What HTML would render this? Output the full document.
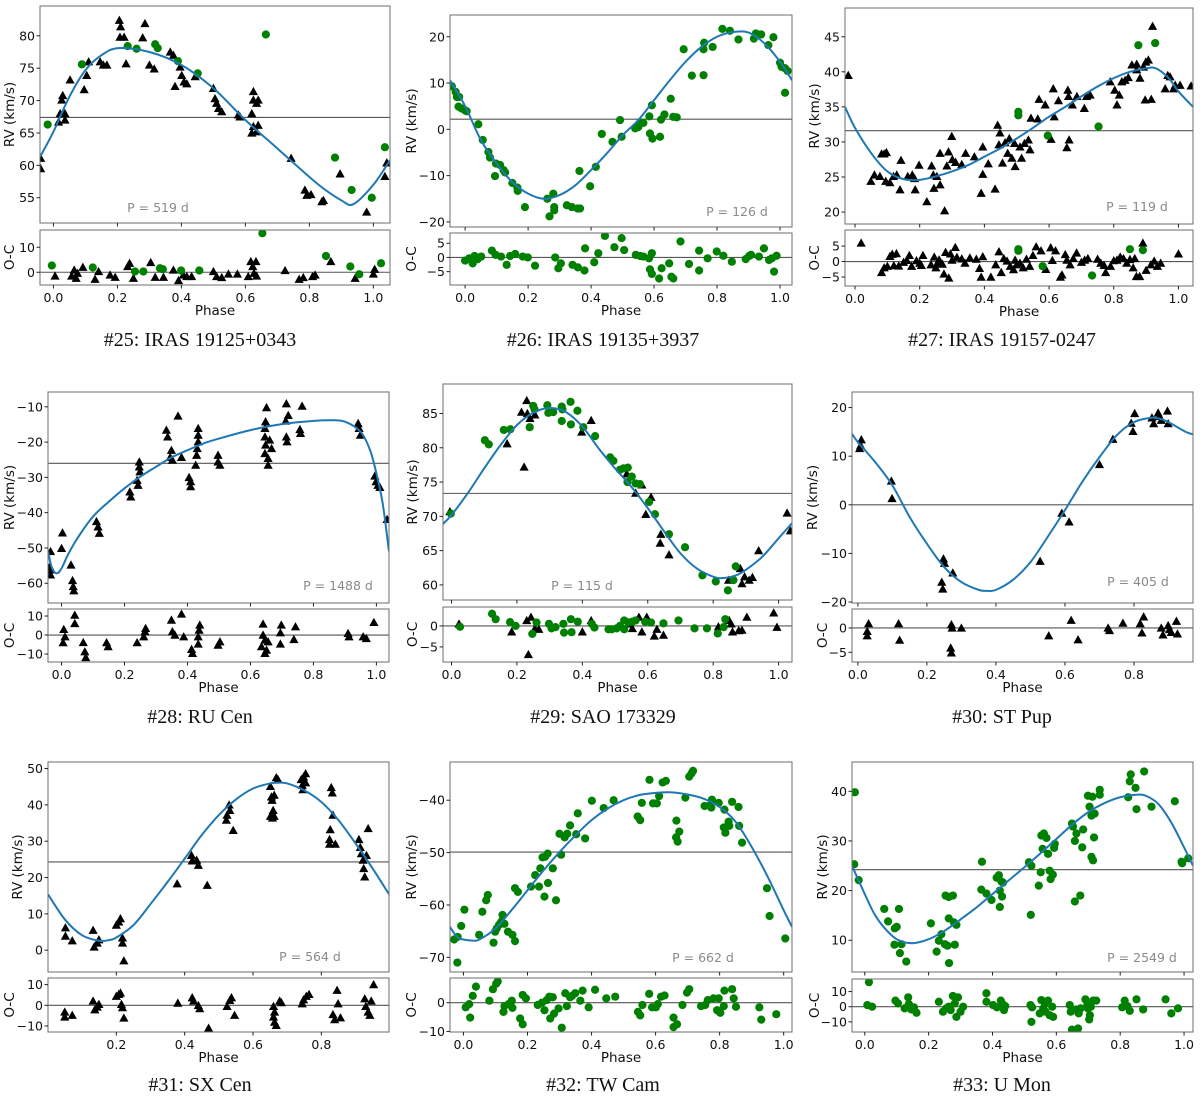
<!DOCTYPE html>
<html><head><meta charset="utf-8"><title>RV phase curves</title>
<style>
html,body{margin:0;padding:0;background:#fff;}
svg{display:block;}
.tk{font-family:"DejaVu Sans","Liberation Sans",sans-serif;font-size:12.5px;fill:#111;}
.at{font-family:"DejaVu Sans","Liberation Sans",sans-serif;font-size:13.5px;fill:#111;}
.cap{font-family:"Liberation Serif",serif;font-size:20px;fill:#111;}
.pl{font-family:"DejaVu Sans","Liberation Sans",sans-serif;font-size:12.5px;fill:#8a8a8a;}
</style></head>
<body>
<svg id="fig" xmlns="http://www.w3.org/2000/svg" width="1200" height="1102" viewBox="0 0 1200 1102">
<rect width="1200" height="1102" fill="#fff"/>
</svg>
<script>
// ---------- #25 IRAS 19125+0343 ----------
const p25TriPhase=[-0.04,-0.04,0.016,0.021,0.026,0.029,0.036,0.036,0.052,0.096,0.104,0.11,0.146,0.156,0.167,0.206,0.21,0.208,0.221,0.227,0.286,0.279,0.3,0.315,0.365,0.375,0.38,0.396,0.401,0.408,0.417,0.443,0.5,0.505,0.51,0.516,0.526,0.578,0.583,0.625,0.625,0.635,0.62,0.625,0.62,0.635,0.64,0.64,0.743,0.786,0.792,0.805,0.839,0.844,0.896,0.979,1.042,1.036];
const p25TriRv=[61.1,59.5,66.7,68.0,70.1,70.8,68.0,67.0,73.2,71.7,73.9,76.0,76.0,75.5,75.5,82.4,81.4,79.8,79.8,75.7,81.9,79.7,75.5,74.9,77.5,77.0,72.2,75.2,73.9,72.9,72.6,73.7,71.9,70.3,69.6,68.8,68.3,67.8,67.5,71.4,70.1,69.6,68.0,66.0,65.0,65.2,66.2,70.1,61.1,56.2,55.4,55.5,54.4,54.6,58.7,52.8,60.4,58.3];
const p25CircPhase=[-0.018,0.089,0.232,0.26,0.318,0.326,0.389,0.451,0.664,0.88,0.932,0.995,1.036];
const p25CircRv=[66.3,75.6,78.4,78.0,78.7,78.1,76.1,74.2,80.2,61.2,56.2,55.0,62.8];
const p25FitPhase=[-0.042,0.0,0.05,0.1,0.15,0.203,0.3,0.4,0.5,0.6,0.7,0.8,0.85,0.9,0.9375,1.0,1.052];
const p25FitRv=[61.3,65.2,70.6,74.7,77.0,78.1,77.5,75.5,71.9,67.0,62.6,58.2,56.2,54.6,54.0,57.0,60.8];
const p25OcTriPhase=[0.005,0.057,0.065,0.071,0.075,0.092,0.13,0.141,0.177,0.193,0.232,0.238,0.25,0.304,0.318,0.344,0.375,0.391,0.406,0.417,0.432,0.5,0.51,0.526,0.547,0.575,0.609,0.617,0.623,0.627,0.633,0.635,0.724,0.768,0.781,0.81,0.818,0.867,0.943,1.0,1.004];
const p25OcTri=[-1.5,-1.5,0.9,-2.4,-0.4,2.0,-2.8,0.3,-1.1,-2.0,2.3,3.6,-2.4,3.9,-2.0,-2.0,0.9,-3.3,-1.1,-1.7,-1.7,0.3,-1.7,-2.1,-0.7,-0.7,-1.7,4.3,2.3,-0.4,4.3,-1.5,0.7,-2.8,-2.1,-1.7,-1.1,4.3,-2.4,-0.7,1.2];
const p25OcCircPhase=[-0.005,0.123,0.255,0.281,0.333,0.342,0.399,0.456,0.653,0.852,0.928,0.956,1.024];
const p25OcCirc=[2.7,1.9,0.3,0.3,1.6,1.2,0.7,0.7,15.6,6.5,2.3,-0.8,3.6];

// ---------- #26 IRAS 19135+3937 ----------
const p26TriPhase=[];
const p26TriRv=[];
const p26CircPhase=[-0.042,-0.03,-0.026,-0.019,-0.021,-0.011,0,0.005,0.042,0.056,0.074,0.079,0.095,0.098,0.111,0.122,0.127,0.15,0.166,0.167,0.19,0.261,0.268,0.28,0.283,0.283,0.323,0.339,0.357,0.365,0.363,0.397,0.415,0.434,0.468,0.492,0.497,0.54,0.55,0.556,0.566,0.585,0.587,0.593,0.595,0.619,0.622,0.633,0.653,0.661,0.672,0.694,0.72,0.757,0.757,0.759,0.786,0.817,0.841,0.868,0.917,0.923,0.931,0.94,0.963,0.979,1.0,1.005,1.016,1.024,1.016];
const p26CircRv=[9.3,8.1,7.0,7.0,4.9,4.5,4.1,3.9,1.1,-2.3,-4.9,-6.1,-10.1,-7.4,-7.7,-8.8,-9.3,-11.6,-12.6,-13.3,-16.8,-15.0,-18.8,-13.9,-16.8,-17.5,-16.4,-16.8,-17.1,-17.1,-9.0,-12.3,-8.1,-1.0,-2.7,2.0,-1.6,0.2,0.5,1.5,1.4,2.8,-0.9,5.2,-2.0,-1.6,2.1,3.2,6.6,2.7,2.6,17.3,11.6,11.7,17.3,18.7,17.8,21.7,21.3,19.4,19.6,20.7,20.5,20.5,18.2,19.9,14.4,13.5,13.2,12.6,7.9];
const p26FitPhase=[-0.048,0.0,0.05,0.1,0.15,0.2,0.25,0.3,0.35,0.4,0.45,0.5,0.55,0.6,0.65,0.7,0.75,0.8,0.85,0.9,0.95,1.0,1.038];
const p26FitRv=[10.6,5.0,-2.3,-7.4,-11.4,-13.9,-15.0,-14.2,-12.1,-8.8,-5.2,-1.3,2.0,6.3,10.6,14.6,17.8,20.0,21.0,20.9,18.6,14.6,10.6];
const p26OcTriPhase=[];
const p26OcTri=[];
const p26OcCircPhase=[0,0.013,0.024,0.03,0.04,0.051,0.085,0.097,0.114,0.132,0.143,0.159,0.183,0.199,0.222,0.286,0.296,0.304,0.341,0.358,0.379,0.381,0.41,0.423,0.444,0.474,0.497,0.505,0.542,0.556,0.566,0.584,0.587,0.593,0.593,0.616,0.624,0.648,0.655,0.661,0.684,0.711,0.743,0.743,0.77,0.799,0.82,0.847,0.891,0.902,0.908,0.933,0.949,0.965,0.974,0.981,0.989];
const p26OcCirc=[-1.1,-0.3,-2.1,0.5,-0.6,0.3,2.4,0.9,0.3,-2.6,0.5,1.2,0.3,0,-2.9,0,-3.8,-2.1,-2.6,-3.5,-4.6,3.2,-1.7,1.5,7.6,3.6,6.8,2.6,0.9,0.5,0.3,-0.3,-4.2,-5.8,1.5,-7.4,-3.8,-2.1,-6.8,-7.4,5.6,-2.3,2.4,-4.6,-0.3,2.1,0.6,-1.5,-0.6,0.5,0.9,0.3,3.2,-0.9,-0.3,-5.0,0.6];

// ---------- #27 IRAS 19157-0247 ----------
const p27TriPhase=[-0.021,0.049,0.06,0.077,0.082,0.09,0.097,0.095,0.108,0.119,0.129,0.142,0.139,0.163,0.177,0.184,0.186,0.198,0.222,0.237,0.242,0.244,0.253,0.263,0.263,0.277,0.284,0.289,0.299,0.301,0.311,0.33,0.342,0.369,0.39,0.395,0.395,0.412,0.433,0.441,0.448,0.445,0.456,0.464,0.472,0.477,0.485,0.493,0.495,0.51,0.515,0.524,0.536,0.541,0.544,0.565,0.569,0.588,0.606,0.613,0.616,0.629,0.655,0.658,0.66,0.662,0.672,0.686,0.709,0.716,0.727,0.789,0.803,0.81,0.817,0.825,0.835,0.845,0.856,0.871,0.871,0.881,0.892,0.899,0.907,0.897,0.916,0.92,0.959,0.967,0.974,0.985,0.99,1.005,1.039];
const p27TriRv=[39.5,24.4,25.3,25.1,28.3,28.3,28.5,24.4,24.2,25.1,25.3,27.4,23.2,25.1,25.3,24.8,23.2,26.7,21.5,26.6,25.3,23.4,25.1,23.9,28.4,20.2,26.6,28.6,30.8,27.5,27.1,26.8,28.4,27.9,22.7,25.4,29.3,26.9,23.3,32.4,31.3,29.6,27.0,29.9,28.4,30.5,27.7,29.8,26.5,29.3,27.7,29.8,30.3,28.9,33.4,33.3,36.1,35.3,30.4,37.6,33.6,35.9,29.2,37.4,36.5,30.3,35.3,36.5,34.8,36.5,36.7,38.6,37.4,35.3,36.7,38.6,38.8,39.2,41.0,41.1,40.3,39.1,40.7,41.4,41.7,36.0,36.1,46.5,37.6,39.5,39.3,37.6,38.1,38.1,38.0];
const p27CircPhase=[0.505,0.505,0.596,0.753,0.876,0.928];
const p27CircRv=[33.8,34.3,30.9,32.2,43.8,44.1];
const p27FitPhase=[-0.031,0.0,0.05,0.1,0.15,0.2,0.25,0.3,0.35,0.4,0.45,0.5,0.55,0.6,0.65,0.7,0.75,0.8,0.85,0.9,0.93,0.97,1.0,1.045];
const p27FitRv=[35.0,32.0,28.4,25.8,24.7,24.6,25.1,25.8,26.7,27.9,29.1,30.5,32.0,33.6,35.0,36.5,37.9,39.1,40.0,40.5,40.5,39.1,37.2,35.0];
const p27OcTriPhase=[0.019,0.082,0.09,0.1,0.108,0.115,0.12,0.128,0.135,0.15,0.16,0.168,0.175,0.19,0.2,0.205,0.21,0.235,0.245,0.25,0.255,0.26,0.27,0.275,0.28,0.29,0.295,0.3,0.31,0.315,0.33,0.34,0.355,0.375,0.385,0.39,0.395,0.42,0.435,0.445,0.452,0.46,0.47,0.48,0.49,0.495,0.5,0.51,0.52,0.53,0.54,0.55,0.56,0.575,0.59,0.605,0.61,0.62,0.635,0.64,0.65,0.655,0.665,0.675,0.685,0.7,0.71,0.72,0.75,0.76,0.77,0.775,0.79,0.8,0.81,0.82,0.83,0.84,0.85,0.86,0.865,0.87,0.88,0.89,0.9,0.915,0.925,0.935,0.945,1.0];
const p27OcTri=[6.0,-3.5,-2.0,-1.5,1.7,2.4,-1.3,2.6,-1.4,-0.2,0.4,2.0,-1.5,0.3,-0.5,-1.2,2.0,-1.0,1.5,-2.0,-0.5,0.6,-0.8,-4.0,3.0,-5.3,2.5,0.5,4.6,1.4,0.9,-0.5,1.2,0.8,-2.2,-5.0,1.6,-5.0,-1.0,3.2,-3.5,1.0,0.2,-1.5,-2.6,0.5,-1.0,-0.5,-2.0,0.8,-1.5,2.0,4.8,3.5,-2.5,4.5,0.4,3.5,-5.0,-4.3,2.3,0.5,-1.0,1.0,2.8,-0.2,0.5,1.0,0.8,-0.5,-1.2,-3.5,-1.5,0.3,0.5,1.5,1.0,-0.5,0.7,-2.0,1.0,-4.8,-4.8,6.0,-2.8,-1.0,0.2,-1.5,-0.5,2.5];
const p27OcCircPhase=[0.505,0.505,0.58,0.733,0.85,0.89];
const p27OcCirc=[3.5,4.0,-1.5,-4.5,4.0,3.7];

// ---------- #28 RU Cen ----------
const p28TriPhase=[-0.035,-0.037,-0.037,-0.035,0.003,0,0.03,0.035,0.037,0.039,0.111,0.116,0.12,0.217,0.22,0.247,0.247,0.249,0.24,0.243,0.333,0.337,0.349,0.345,0.352,0.37,0.381,0.405,0.41,0.41,0.434,0.434,0.434,0.431,0.429,0.426,0.497,0.497,0.503,0.651,0.648,0.646,0.646,0.648,0.646,0.656,0.656,0.661,0.667,0.714,0.72,0.712,0.714,0.716,0.757,0.759,0.764,0.942,0.945,0.949,0.995,0.999,1.005,1.011,1.034];
const p28TriRv=[-51.0,-55.3,-56.2,-57.6,-45.7,-50.1,-54.8,-59.2,-60.9,-62.1,-42.5,-44.0,-45.8,-34.1,-35.5,-25.6,-27.0,-28.4,-30.8,-32.2,-16.6,-18.5,-22.3,-24.3,-25.1,-12.6,-24.3,-30.0,-31.2,-32.6,-16.1,-18.0,-19.9,-21.8,-23.7,-26.5,-23.7,-25.6,-26.5,-10.2,-14.2,-16.1,-18.5,-20.8,-23.2,-24.6,-26.5,-19.4,-21.8,-9.1,-12.4,-14.0,-18.5,-19.9,-16.4,-17.5,-9.8,-14.7,-16.1,-18.0,-29.6,-31.2,-32.2,-32.8,-41.9];
const p28CircPhase=[];
const p28CircRv=[];
const p28FitPhase=[-0.043,-0.03,-0.015,0.0,0.02,0.05,0.1,0.15,0.2,0.25,0.3,0.35,0.4,0.45,0.5,0.6,0.7,0.8,0.85,0.9,0.95,0.98,1.0,1.02,1.04];
const p28FitRv=[-51.0,-55.8,-57.2,-55.8,-52.0,-47.3,-41.1,-36.9,-33.1,-29.8,-27.0,-24.3,-22.3,-20.4,-19.0,-16.6,-14.9,-14.0,-13.8,-14.2,-17.1,-22.3,-28.9,-37.4,-51.0];
const p28OcTriPhase=[0.007,0.011,0.005,0.042,0.042,0.069,0.074,0.077,0.143,0.148,0.24,0.265,0.267,0.261,0.349,0.352,0.36,0.381,0.388,0.413,0.416,0.439,0.437,0.434,0.434,0.497,0.503,0.64,0.64,0.635,0.646,0.646,0.651,0.656,0.698,0.695,0.695,0.738,0.743,0.91,0.913,0.958,0.968,0.992];
const p28OcTri=[3.0,-0.9,-4.0,10.5,6.1,-3.9,-8.8,-11.8,-4.0,-6.1,-4.0,1.8,3.5,-0.9,7.9,1.8,0,11.1,-0.9,-7.5,-9.6,5.3,2.6,-0.9,-4.7,-5.3,-3.5,5.8,0,-6.1,-2.6,-9.6,-7.9,-3.5,5.3,1.2,-4.7,-2.3,4.4,0.9,-0.9,-0.9,-1.8,6.7];
const p28OcCircPhase=[];
const p28OcCirc=[];

// ---------- #29 SAO 173329 ----------
const p29TriPhase=[-0.005,0.214,0.23,0.232,0.24,0.255,0.17,0.222,0.398,0.427,0.536,0.563,0.582,0.594,0.61,0.64,0.638,0.665,0.847,0.883,0.888,0.896,0.91,0.92,0.939,1.026,1.036];
const p29TriRv=[70.7,85.2,86.9,85.0,84.3,84.8,80.6,77.2,82.3,84.0,76.2,73.4,74.6,70.3,72.8,67.4,66.1,64.4,60.7,62.4,60.2,61.2,60.7,61.1,65.0,70.5,67.9];
const p29CircPhase=[-0.002,0.102,0.114,0.16,0.18,0.239,0.25,0.254,0.293,0.296,0.311,0.337,0.339,0.337,0.364,0.365,0.385,0.403,0.439,0.485,0.495,0.515,0.526,0.539,0.538,0.551,0.563,0.576,0.604,0.622,0.665,0.714,0.767,0.808,0.845,0.862,0.869];
const p29CircRv=[70.4,81.1,80.5,82.6,82.7,83.0,86.1,85.6,86.2,85.1,85.2,86.0,85.6,83.9,86.7,83.4,85.4,83.0,81.7,78.6,78.1,76.8,77.0,77.1,75.0,75.8,74.8,74.7,72.1,70.3,67.4,65.5,61.4,60.5,59.2,60.7,62.7];
const p29FitPhase=[-0.026,0.0,0.05,0.1,0.15,0.2,0.25,0.3,0.35,0.4,0.45,0.5,0.55,0.6,0.65,0.7,0.75,0.8,0.83,0.87,0.9,0.95,1.0,1.041];
const p29FitRv=[68.9,70.2,73.4,77.0,80.4,83.3,85.1,85.8,85.2,83.1,79.9,77.0,74.3,71.2,67.8,64.6,62.4,61.2,61.0,61.4,62.2,64.1,66.8,69.0];
const p29OcTriPhase=[0.023,0.184,0.23,0.235,0.243,0.255,0.267,0.4,0.427,0.541,0.553,0.573,0.582,0.597,0.62,0.628,0.648,0.816,0.849,0.855,0.859,0.878,0.888,0.903,0.985,0.995];
const p29OcTri=[0.5,-1.4,1.3,-6.8,2.1,-0.6,-0.8,-1.4,1.3,0.5,-0.6,2.1,-1.4,2.1,-2.4,-0.8,-2.2,-0.2,1.3,0.5,-1.4,-1.1,-1.0,2.1,3.1,-0.3];
const p29OcCircPhase=[0.026,0.124,0.135,0.179,0.196,0.247,0.26,0.298,0.306,0.318,0.342,0.344,0.365,0.367,0.386,0.429,0.437,0.48,0.49,0.505,0.515,0.528,0.528,0.541,0.553,0.563,0.592,0.61,0.648,0.694,0.743,0.781,0.814,0.837,0.832];
const p29OcCirc=[-0.2,2.9,1.6,0.9,0,-1.9,0.8,0.5,-0.6,-0.3,0.5,-1.6,1.6,-1.5,1.0,0.5,-0.4,-0.8,-0.8,-0.6,0,1.3,-0.8,0.8,1.0,1.3,1.0,0.8,0.6,1.3,-0.6,-0.6,-1.8,1.6,-0.3];

// ---------- #30 ST Pup ----------
const p30TriPhase=[0.005,0.01,0.008,0.097,0.099,0.248,0.251,0.243,0.246,0.275,0.528,0.591,0.612,0.7,0.739,0.792,0.797,0.802,0.852,0.857,0.87,0.874,0.879,0.897,0.899];
const p30TriRv=[11.6,13.4,12.2,4.9,1.3,-11.1,-12.0,-15.9,-17.3,-14.0,-11.6,-1.7,-3.5,8.3,13.5,16.8,15.1,18.8,17.9,16.7,18.9,18.2,17.4,19.3,16.7];
const p30CircPhase=[];
const p30CircRv=[];
const p30FitPhase=[-0.017,0.0,0.05,0.1,0.15,0.2,0.25,0.3,0.35,0.375,0.4,0.45,0.5,0.55,0.6,0.65,0.7,0.75,0.8,0.85,0.875,0.9,0.95,0.971];
const p30FitRv=[14.6,12.9,8.8,4.0,-2.5,-8.0,-12.8,-15.9,-17.5,-17.7,-17.5,-15.4,-11.8,-6.6,-1.1,4.7,9.8,14.3,17.0,17.9,17.7,17.0,15.0,14.5];
const p30OcTriPhase=[0.031,0.027,0.027,0.118,0.121,0.271,0.273,0.269,0.271,0.3,0.553,0.618,0.638,0.725,0.729,0.768,0.818,0.823,0.828,0.879,0.884,0.899,0.903,0.908,0.923,0.926];
const p30OcTri=[0.9,-0.7,-1.6,0.9,-2.5,0.7,0,-4.1,-5.1,0,-1.6,1.6,-2.4,0,-0.5,1.0,0.9,-1.0,2.3,0,-1.4,0.5,-0.3,-0.9,1.4,-1.2];
const p30OcCircPhase=[];
const p30OcCirc=[];

// ---------- #31 SX Cen ----------
const p31TriPhase=[0.051,0.051,0.071,0.132,0.135,0.144,0.149,0.2,0.207,0.212,0.218,0.218,0.222,0.378,0.42,0.422,0.435,0.44,0.466,0.522,0.524,0.53,0.532,0.542,0.651,0.654,0.656,0.659,0.662,0.657,0.662,0.651,0.668,0.673,0.741,0.748,0.754,0.744,0.746,0.754,0.829,0.832,0.834,0.826,0.824,0.824,0.841,0.91,0.914,0.917,0.922,0.924,0.927,0.932,0.937];
const p31TriRv=[6.2,3.9,2.6,5.5,0.9,2.0,2.9,6.9,7.8,8.7,3.4,2.0,-2.9,18.3,26.1,24.6,24.8,23.4,17.9,35.8,37.2,40.0,38.5,33.0,45.1,42.2,41.3,38.5,42.7,36.4,36.9,36.9,47.5,47.0,47.0,47.7,48.6,45.4,44.2,46.1,44.8,43.3,37.2,33.2,30.5,29.2,29.2,30.5,28.3,26.6,24.8,22.5,20.2,26.1,33.5];
const p31CircPhase=[];
const p31CircRv=[];
const p31FitPhase=[0.0,0.05,0.1,0.15,0.18,0.2,0.25,0.3,0.35,0.4,0.45,0.5,0.55,0.6,0.65,0.675,0.7,0.75,0.8,0.85,0.9,0.95,0.998];
const p31FitRv=[15.4,8.4,4.1,2.6,2.8,3.5,6.9,12.7,18.8,25.2,31.7,37.2,41.5,44.5,45.9,46.1,45.9,44.0,40.8,35.8,29.4,22.5,15.4];
const p31OcTriPhase=[0.049,0.049,0.071,0.132,0.137,0.144,0.149,0.2,0.207,0.212,0.215,0.218,0.222,0.38,0.422,0.426,0.44,0.444,0.47,0.524,0.532,0.537,0.546,0.66,0.663,0.66,0.663,0.668,0.678,0.683,0.744,0.748,0.756,0.764,0.834,0.839,0.846,0.849,0.856,0.927,0.93,0.937,0.942,0.946,0.953];
const p31OcTri=[-3.2,-5.6,-4.8,2.1,-2.1,-0.8,0.5,4.4,5.3,6.0,0.5,-1.1,-6.1,1.1,3.7,2.1,0,-1.6,-11.0,-0.5,2.4,3.7,-4.8,-0.5,-3.2,-5.6,-8.1,-9.7,2.1,1.3,0.8,2.7,4.4,5.3,-4.4,-6.9,7.3,0.8,-6.0,3.2,-0.5,-3.2,-4.8,2.1,10.0];
const p31OcCircPhase=[];
const p31OcCirc=[];

// ---------- #32 TW Cam ----------
const p32TriPhase=[];
const p32TriRv=[];
const p32CircPhase=[-0.029,-0.018,-0.019,-0.007,0.003,0.049,0.059,0.071,0.076,0.094,0.099,0.104,0.111,0.118,0.122,0.128,0.139,0.153,0.161,0.161,0.17,0.211,0.224,0.236,0.24,0.247,0.255,0.253,0.263,0.264,0.279,0.289,0.3,0.305,0.316,0.324,0.333,0.352,0.357,0.38,0.401,0.438,0.469,0.544,0.552,0.557,0.581,0.592,0.604,0.611,0.622,0.632,0.665,0.664,0.669,0.674,0.693,0.705,0.712,0.717,0.753,0.769,0.776,0.774,0.797,0.813,0.815,0.818,0.828,0.83,0.839,0.859,0.861,0.87,0.948,0.956,1.005];
const p32CircRv=[-66.6,-66.1,-71.0,-64.0,-60.9,-65.7,-61.3,-59.1,-58.1,-67.2,-65.1,-64.5,-63.8,-63.2,-61.9,-63.6,-65.1,-65.7,-66.9,-56.8,-57.5,-56.5,-54.3,-56.5,-53.0,-50.9,-50.8,-58.4,-50.2,-55.8,-53.0,-59.1,-46.4,-50.4,-47.1,-46.4,-44.8,-46.5,-42.5,-47.3,-40.1,-41.5,-40.0,-43.1,-43.8,-40.5,-36.1,-40.6,-40.6,-39.2,-36.6,-36.3,-43.9,-47.1,-47.9,-46.0,-39.5,-35.5,-34.9,-34.4,-41.1,-41.0,-39.9,-41.4,-40.5,-45.2,-41.8,-46.2,-44.1,-44.9,-40.3,-41.3,-44.9,-48.1,-56.8,-62.1,-66.4];
const p32FitPhase=[-0.042,-0.02,0.0,0.03,0.05,0.1,0.15,0.2,0.25,0.3,0.35,0.4,0.45,0.5,0.55,0.6,0.65,0.7,0.75,0.8,0.85,0.9,0.95,1.0,1.026];
const p32FitRv=[-64.2,-66.1,-66.6,-66.8,-66.6,-64.5,-61.0,-57.2,-53.4,-49.9,-46.7,-43.8,-41.6,-40.0,-39.0,-38.6,-38.5,-38.9,-39.7,-41.3,-44.1,-48.9,-54.6,-61.0,-64.2];
const p32OcTriPhase=[];
const p32OcTri=[];
const p32OcCircPhase=[0.007,0.018,0.021,0.029,0.039,0.081,0.092,0.102,0.107,0.128,0.125,0.141,0.151,0.153,0.177,0.185,0.185,0.195,0.232,0.245,0.253,0.26,0.268,0.271,0.279,0.283,0.297,0.307,0.318,0.323,0.333,0.339,0.349,0.365,0.372,0.391,0.411,0.446,0.474,0.545,0.552,0.559,0.58,0.589,0.601,0.607,0.617,0.628,0.656,0.656,0.667,0.684,0.698,0.705,0.742,0.755,0.763,0.781,0.792,0.797,0.802,0.813,0.815,0.839,0.844,0.851,0.924,0.93,0.977];
const p32OcCirc=[-1.6,-0.5,-5.2,2.4,5.6,0.7,4.7,6.6,7.4,-1.2,-3.2,-0.5,0.7,-1.8,-5.5,-7.5,2.7,1.5,-0.8,0,-2.6,0.9,2.1,-5.5,1.9,-3.8,-2.0,-8.7,3.3,-1.2,1.9,2.4,3.3,0.7,4.2,-1.6,4.5,1.5,2.1,-3.2,-4.4,-0.8,3.1,-1.6,-1.6,-0.5,2.1,2.5,-5.2,-8.5,-7.5,-0.8,3.5,4.7,-1.2,-0.8,0.9,1.5,-2.6,1.5,-3.5,-1.2,4.2,4.7,1.5,-1.4,-1.6,-5.9,-4.0];

// ---------- #33 U Mon ----------
const p33TriPhase=[];
const p33TriRv=[];
const p33CircPhase=[-0.031,-0.033,-0.019,0.061,0.073,0.094,0.1,0.107,0.093,0.115,0.11,0.13,0.207,0.24,0.232,0.225,0.251,0.259,0.253,0.263,0.263,0.264,0.276,0.279,0.282,0.287,0.367,0.365,0.381,0.397,0.413,0.42,0.423,0.423,0.428,0.43,0.433,0.52,0.514,0.522,0.545,0.551,0.553,0.561,0.557,0.569,0.574,0.579,0.582,0.589,0.595,0.593,0.649,0.652,0.658,0.663,0.658,0.675,0.681,0.684,0.699,0.704,0.71,0.713,0.71,0.715,0.718,0.72,0.736,0.736,0.825,0.833,0.83,0.848,0.851,0.875,0.898,0.971,0.992,0.994,1.013];
const p33CircRv=[39.8,25.3,22.1,16.3,13.8,12.4,12.7,16.3,9.1,9.2,7.4,5.7,13.4,11.2,9.9,7.7,9.2,8.9,19.0,18.7,14.4,5.4,19.0,13.6,9.1,13.1,25.8,20.2,19.4,18.1,22.6,23.1,20.0,16.7,21.8,18.8,21.6,15.1,25.7,25.0,21.0,23.7,31.1,31.5,28.4,30.6,27.4,24.0,22.3,23.2,29.4,28.6,33.5,32.9,30.0,31.5,17.8,19.0,28.7,32.3,39.1,36.9,35.1,38.9,26.8,26.1,30.7,35.5,40.3,39.3,38.8,43.4,42.0,40.7,36.4,44.0,36.9,38.0,25.8,25.5,26.5];
const p33FitPhase=[-0.04,0.0,0.03,0.06,0.1,0.15,0.2,0.25,0.3,0.35,0.4,0.45,0.5,0.55,0.6,0.65,0.7,0.75,0.8,0.85,0.88,0.92,0.96,1.0,1.028];
const p33FitRv=[25.0,19.3,15.3,12.6,10.2,9.4,10.2,11.9,14.2,16.6,19.3,22.0,24.7,27.5,30.4,33.3,35.8,37.6,38.8,39.3,39.1,37.4,33.7,28.7,25.0];
const p33OcTriPhase=[];
const p33OcTri=[];
const p33OcCircPhase=[0.013,0.008,0.023,0.096,0.104,0.125,0.136,0.138,0.146,0.154,0.162,0.232,0.245,0.255,0.263,0.269,0.276,0.282,0.287,0.292,0.3,0.308,0.381,0.381,0.402,0.414,0.426,0.43,0.436,0.44,0.519,0.524,0.522,0.548,0.553,0.559,0.564,0.566,0.574,0.579,0.587,0.59,0.642,0.645,0.649,0.663,0.668,0.67,0.676,0.691,0.697,0.699,0.703,0.705,0.708,0.715,0.725,0.806,0.814,0.823,0.83,0.851,0.872,0.942,0.96,0.981];
const p33OcCirc=[16.2,1.1,0,4.0,2.2,-1.1,6.2,1.8,-1.8,-0.4,-4.0,3.3,-3.3,-1.1,0,-2.2,7.1,2.2,-6.7,6.2,-3.3,0,8.9,3.3,1.1,-0.4,4.0,2.2,-2.2,0.4,1.1,-0.4,-10.0,-4.4,4.4,-1.1,2.2,-3.3,4.0,-5.6,0,-6.7,1.1,-3.3,-15.1,-1.8,-14.4,-4.4,-1.1,4.9,1.1,-1.1,-8.4,-5.6,0,4.0,4.0,-0.4,4.0,0.4,-2.7,4.9,-1.8,4.9,-4.4,-1.1];

// ---------- layout & rendering ----------
const NS='http://www.w3.org/2000/svg';
const svg=document.getElementById('fig');
function mk(tag,attrs,parent){const e=document.createElementNS(NS,tag);for(const k in attrs)e.setAttribute(k,attrs[k]);(parent||svg).appendChild(e);return e;}
function fmt(v,dec){let s=v.toFixed(dec);if(v<0)s='\u2212'+(-v).toFixed(dec);return s;}

const panels=[
 {id:'25',title:'#25: IRAS 19125+0343',L:40,R:390,T:6,B:223,oT:230,oB:285,x0:-0.042,x1:1.052,y0:51.1,y1:84.6,o0:-5.1,o1:16.9,h:67.4,yt:[55,60,65,70,75,80],ot:[0,10],xt:[0,0.2,0.4,0.6,0.8,1.0],ytx:10,otx:10,px:158,py:212,cx:200,cy:346,plab:'P = 519 d'},
 {id:'26',title:'#26: IRAS 19135+3937',L:450,R:792,T:15,B:227,oT:233,oB:285,x0:-0.048,x1:1.038,y0:-21.1,y1:24.7,o0:-9.7,o1:8.6,h:2.2,yt:[-20,-10,0,10,20],ot:[-5,0,5],xt:[0,0.2,0.4,0.6,0.8,1.0],ytx:412,otx:412,px:737,py:216,cx:603,cy:346,plab:'P = 126 d'},
 {id:'27',title:'#27: IRAS 19157-0247',L:845,R:1193,T:8,B:224,oT:230,oB:286,x0:-0.031,x1:1.045,y0:18.3,y1:49.1,o0:-7.9,o1:10.2,h:31.6,yt:[20,25,30,35,40,45],ot:[-5,0,5],xt:[0,0.2,0.4,0.6,0.8,1.0],ytx:815,otx:815,px:1137,py:211,cx:1002,cy:346,plab:'P = 119 d'},
 {id:'28',title:'#28: RU Cen',L:48,R:389,T:392,B:603,oT:609,oB:662,x0:-0.043,x1:1.04,y0:-65.6,y1:-5.8,o0:-14.2,o1:13.7,h:-26,yt:[-60,-50,-40,-30,-20,-10],ot:[-10,0,10],xt:[0,0.2,0.4,0.6,0.8,1.0],ytx:10,otx:10,px:338,py:590,cx:200,cy:723,plab:'P = 1488 d'},
 {id:'29',title:'#29: SAO 173329',L:443,R:792,T:384,B:600,oT:607,oB:662,x0:-0.026,x1:1.041,y0:57.8,y1:89.3,o0:-8.6,o1:4.5,h:73.35,yt:[60,65,70,75,80,85],ot:[-5,0],xt:[0,0.2,0.4,0.6,0.8,1.0],ytx:413,otx:413,px:582,py:590,cx:603,cy:723,plab:'P = 115 d'},
 {id:'30',title:'#30: ST Pup',L:852,R:1193,T:392,B:603,oT:609,oB:662,x0:-0.017,x1:0.971,y0:-20.2,y1:23.2,o0:-7.0,o1:3.9,h:0,yt:[-20,-10,0,10,20],ot:[-5,0],xt:[0,0.2,0.4,0.6,0.8],ytx:813,otx:823,px:1138,py:586,cx:1002,cy:723,plab:'P = 405 d'},
 {id:'31',title:'#31: SX Cen',L:48,R:389,T:762,B:972,oT:978,oB:1032,x0:0.0,x1:0.998,y0:-6,y1:51.8,o0:-12.9,o1:13.2,h:24.3,yt:[0,10,20,30,40,50],ot:[-10,0,10],xt:[0.2,0.4,0.6,0.8],ytx:18,otx:10,px:310,py:961,cx:200,cy:1091,plab:'P = 564 d'},
 {id:'32',title:'#32: TW Cam',L:450,R:792,T:762,B:972,oT:978,oB:1032,x0:-0.042,x1:1.026,y0:-72.8,y1:-32.7,o0:-10.2,o1:8.6,h:-49.9,yt:[-70,-60,-50,-40],ot:[-10,0],xt:[0,0.2,0.4,0.6,0.8,1.0],ytx:412,otx:412,px:703,py:962,cx:603,cy:1091,plab:'P = 662 d'},
 {id:'33',title:'#33: U Mon',L:852,R:1193,T:762,B:972,oT:979,oB:1032,x0:-0.04,x1:1.028,y0:3.6,y1:45.9,o0:-16.7,o1:18.3,h:24.2,yt:[10,20,30,40],ot:[-10,0,10],xt:[0,0.2,0.4,0.6,0.8,1.0],ytx:823,otx:815,px:1142,py:962,cx:1002,cy:1091,plab:'P = 2549 d'}
];
const DATA={
 '25':[p25TriPhase,p25TriRv,p25CircPhase,p25CircRv,p25FitPhase,p25FitRv,p25OcTriPhase,p25OcTri,p25OcCircPhase,p25OcCirc],
 '26':[p26TriPhase,p26TriRv,p26CircPhase,p26CircRv,p26FitPhase,p26FitRv,p26OcTriPhase,p26OcTri,p26OcCircPhase,p26OcCirc],
 '27':[p27TriPhase,p27TriRv,p27CircPhase,p27CircRv,p27FitPhase,p27FitRv,p27OcTriPhase,p27OcTri,p27OcCircPhase,p27OcCirc],
 '28':[p28TriPhase,p28TriRv,p28CircPhase,p28CircRv,p28FitPhase,p28FitRv,p28OcTriPhase,p28OcTri,p28OcCircPhase,p28OcCirc],
 '29':[p29TriPhase,p29TriRv,p29CircPhase,p29CircRv,p29FitPhase,p29FitRv,p29OcTriPhase,p29OcTri,p29OcCircPhase,p29OcCirc],
 '30':[p30TriPhase,p30TriRv,p30CircPhase,p30CircRv,p30FitPhase,p30FitRv,p30OcTriPhase,p30OcTri,p30OcCircPhase,p30OcCirc],
 '31':[p31TriPhase,p31TriRv,p31CircPhase,p31CircRv,p31FitPhase,p31FitRv,p31OcTriPhase,p31OcTri,p31OcCircPhase,p31OcCirc],
 '32':[p32TriPhase,p32TriRv,p32CircPhase,p32CircRv,p32FitPhase,p32FitRv,p32OcTriPhase,p32OcTri,p32OcCircPhase,p32OcCirc],
 '33':[p33TriPhase,p33TriRv,p33CircPhase,p33CircRv,p33FitPhase,p33FitRv,p33OcTriPhase,p33OcTri,p33OcCircPhase,p33OcCirc]
};
const GREEN='#008000', BLUE='#1f77b4', SPINE='#6e6e6e';

function tri(g,x,y){const s=4.6;const e=mk('path',{d:`M${x},${y-s} L${x+s},${y+s*0.8} L${x-s},${y+s*0.8}Z`,fill:'#000'},g);

}
function circ(g,x,y){const e=mk('circle',{cx:x,cy:y,r:4.1,fill:GREEN},g);

}

function splinePath(xs,ys){let d=`M${xs[0]},${ys[0]}`;const n=xs.length;
 for(let i=0;i<n-1;i++){const x0=xs[Math.max(i-1,0)],y0=ys[Math.max(i-1,0)],x1=xs[i],y1=ys[i],x2=xs[i+1],y2=ys[i+1],x3=xs[Math.min(i+2,n-1)],y3=ys[Math.min(i+2,n-1)];
  const c1x=x1+(x2-x0)/6,c1y=y1+(y2-y0)/6,c2x=x2-(x3-x1)/6,c2y=y2-(y3-y1)/6;
  d+=` C${c1x.toFixed(2)},${c1y.toFixed(2)} ${c2x.toFixed(2)},${c2y.toFixed(2)} ${x2.toFixed(2)},${y2.toFixed(2)}`;}
 return d;}

panels.forEach(p=>{
 const D=DATA[p.id];
 const g=mk('g',{});
 
 
 const sx=v=>p.L+(v-p.x0)/(p.x1-p.x0)*(p.R-p.L);
 const sy=v=>p.B-(v-p.y0)/(p.y1-p.y0)*(p.B-p.T);
 const so=v=>p.oB-(v-p.o0)/(p.o1-p.o0)*(p.oB-p.oT);
 const defs=mk('defs',{},g);
 const c1=mk('clipPath',{id:'cm'+p.id},defs);mk('rect',{x:p.L,y:p.T,width:p.R-p.L,height:p.B-p.T},c1);
 const c2=mk('clipPath',{id:'co'+p.id},defs);mk('rect',{x:p.L,y:p.oT,width:p.R-p.L,height:p.oB-p.oT},c2);
 const main=mk('g',{'clip-path':`url(#cm${p.id})`},g);
 
 
 const hl=mk('line',{x1:p.L,x2:p.R,y1:sy(p.h),y2:sy(p.h),stroke:'#555',"stroke-width":1.1},main);
 
 
 for(let i=0;i<D[0].length;i++)tri(main,sx(D[0][i]),sy(D[1][i]));
 for(let i=0;i<D[2].length;i++)circ(main,sx(D[2][i]),sy(D[3][i]));
 const fit=mk('path',{d:splinePath(D[4].map(sx),D[5].map(sy)),fill:'none',stroke:BLUE,"stroke-width":2},main);
 
 
 const fr=mk('rect',{x:p.L,y:p.T,width:p.R-p.L,height:p.B-p.T,fill:'none',stroke:SPINE,"stroke-width":1},g);
 
 
 const oc=mk('g',{'clip-path':`url(#co${p.id})`},g);
 
 
 const zl=mk('line',{x1:p.L,x2:p.R,y1:so(0),y2:so(0),stroke:'#555',"stroke-width":1.1},oc);
 
 
 for(let i=0;i<D[6].length;i++)tri(oc,sx(D[6][i]),so(D[7][i]));
 for(let i=0;i<D[8].length;i++)circ(oc,sx(D[8][i]),so(D[9][i]));
 const fr2=mk('rect',{x:p.L,y:p.oT,width:p.R-p.L,height:p.oB-p.oT,fill:'none',stroke:SPINE,"stroke-width":1},g);
 
 
 p.yt.forEach(v=>{const y=sy(v);mk('line',{x1:p.L-3.5,x2:p.L,y1:y,y2:y,stroke:'#222'},g);
  const t=mk('text',{x:p.L-5,y:y+4.5,'text-anchor':'end',class:'tk'},g);t.textContent=fmt(v,0);
  
  });
 p.ot.forEach(v=>{const y=so(v);mk('line',{x1:p.L-3.5,x2:p.L,y1:y,y2:y,stroke:'#222'},g);
  const t=mk('text',{x:p.L-5,y:y+4.5,'text-anchor':'end',class:'tk'},g);t.textContent=fmt(v,0);
  
  });
 p.xt.forEach(v=>{const x=sx(v);mk('line',{x1:x,x2:x,y1:p.B,y2:p.B+3.5,stroke:'#222'},g);
  mk('line',{x1:x,x2:x,y1:p.oB,y2:p.oB+3.5,stroke:'#222'},g);
  const t=mk('text',{x:x,y:p.oB+17,'text-anchor':'middle',class:'tk'},g);t.textContent=v.toFixed(1);
  
  });
 const mY=(p.T+p.B)/2;
 const yt=mk('text',{x:p.ytx,y:mY,'text-anchor':'middle',class:'at',transform:`rotate(-90 ${p.ytx} ${mY})`,'dominant-baseline':'middle'},g);yt.textContent='RV (km/s)';
 
 
 const oY=(p.oT+p.oB)/2;
 const ot=mk('text',{x:p.otx,y:oY,'text-anchor':'middle',class:'at',transform:`rotate(-90 ${p.otx} ${oY})`,'dominant-baseline':'middle'},g);ot.textContent='O-C';
 
 
 const xl=mk('text',{x:(p.L+p.R)/2,y:p.oB+30,'text-anchor':'middle',class:'at'},g);xl.textContent='Phase';
 
 
 const pl=mk('text',{x:p.px,y:p.py,'text-anchor':'middle',class:'pl'},g);pl.textContent=p.plab;
 
 
 const cap=mk('text',{x:p.cx,y:p.cy,'text-anchor':'middle',class:'cap'},g);cap.textContent=p.title;
 
 
});
</script>
</body></html>
